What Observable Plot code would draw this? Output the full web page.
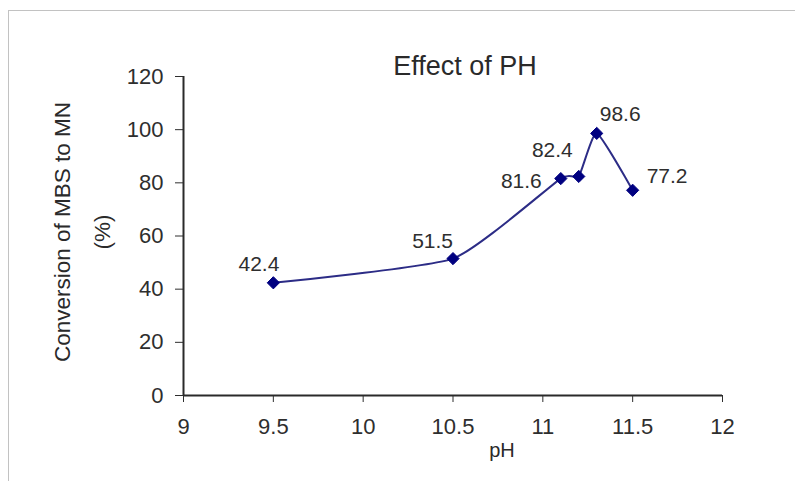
<!DOCTYPE html>
<html>
<head>
<meta charset="utf-8">
<script src="https://cdn.jsdelivr.net/npm/d3@7"></script>
<script src="https://cdn.jsdelivr.net/npm/@observablehq/plot@0.6"></script>
<style>
  html, body { margin: 0; padding: 0; background: #fff; }
  #wrap { position: relative; width: 795px; height: 481px; overflow: hidden; font-family: "Liberation Sans", Arial, sans-serif; color: #2a2a2a; }
  #chart { position: absolute; left: 0; top: 0; }
  #frame { position: absolute; left: 8px; top: 10px; width: 800px; height: 480px; border-top: 1px solid #c2c2c2; border-left: 1px solid #c2c2c2; pointer-events: none; }
  #title { position: absolute; left: 365px; width: 200px; top: 53px; text-align: center; font-size: 27px; line-height: 27px; white-space: nowrap; }
  #xlabel { position: absolute; left: 452px; width: 100px; top: 440px; text-align: center; font-size: 20px; line-height: 20px; }
  #ylabel { position: absolute; left: -67px; top: 192px; width: 300px; height: 80px; text-align: center; font-size: 22.5px; line-height: 40px; transform: rotate(-90deg); transform-origin: 50% 50%; white-space: nowrap; }
</style>
</head>
<body>
<div id="wrap">
  <div id="chart"></div>
  <div id="title">Effect of PH</div>
  <div id="xlabel">pH</div>
  <div id="ylabel">Conversion of MBS to MN<br>(%)</div>
  <div id="frame"></div>
</div>
<script>
// Data
const pH = [9.5, 10.5, 11.1, 11.2, 11.3, 11.5];
const conversion = [42.4, 51.5, 81.6, 82.4, 98.6, 77.2];
const valueLabels = ["42.4", "51.5", "81.6", "82.4", "98.6", "77.2"];
const xTicks = [9, 9.5, 10, 10.5, 11, 11.5, 12];
const yTicks = [0, 20, 40, 60, 80, 100, 120];
const xDomain = [9, 12];
const yDomain = [0, 120];

const data = pH.map((x, i) => ({x, y: conversion[i], label: valueLabels[i]}));

const lineColor = "#2c2c86";
const markerColor = "#000080";
const textColor = "#2e2e2e";

// label placement per point (index -> anchor/offsets), as seen in the reference
const labelStyle = [
  {anchor: "end", dx: 6, dy: -12},
  {anchor: "end", dx: 0, dy: -11},
  {anchor: "end", dx: -19, dy: 9},
  {anchor: "end", dx: -6, dy: -19},
  {anchor: "start", dx: 3, dy: -12},
  {anchor: "start", dx: 14, dy: -7}
];

const labelMarks = labelStyle.map((s, idx) => Plot.text(data, {
  filter: (d, i) => i === idx,
  x: "x", y: "y", text: "label",
  textAnchor: s.anchor, lineAnchor: "bottom",
  dx: s.dx, dy: s.dy,
  fontSize: 21, fill: textColor
}));

const chart = Plot.plot({
  width: 795,
  height: 481,
  marginLeft: 183,
  marginRight: 73,
  marginTop: 76,
  marginBottom: 86,
  style: {fontFamily: "Liberation Sans, Arial, sans-serif", fontSize: "22px", color: textColor, background: "transparent", overflow: "visible"},
  x: {domain: xDomain, ticks: xTicks, tickSize: 7, tickPadding: 16, label: null, tickFormat: d => String(d)},
  y: {domain: yDomain, ticks: yTicks, tickSize: 8, tickPadding: 12, label: null, tickFormat: d => String(d)},
  marks: [
    Plot.ruleY([yDomain[0]], {stroke: "#2a2a2a", strokeWidth: 2}),
    Plot.ruleX([xDomain[0]], {stroke: "#2a2a2a", strokeWidth: 2}),
    Plot.line(data, {x: "x", y: "y", stroke: lineColor, strokeWidth: 2, curve: "cardinal", tension: 0.5}),
    Plot.dot(data, {x: "x", y: "y", symbol: "diamond2", r: 5.5, fill: markerColor, stroke: markerColor, strokeWidth: 1}),
    ...labelMarks
  ]
});
document.getElementById("chart").appendChild(chart);
</script>
</body>
</html>
